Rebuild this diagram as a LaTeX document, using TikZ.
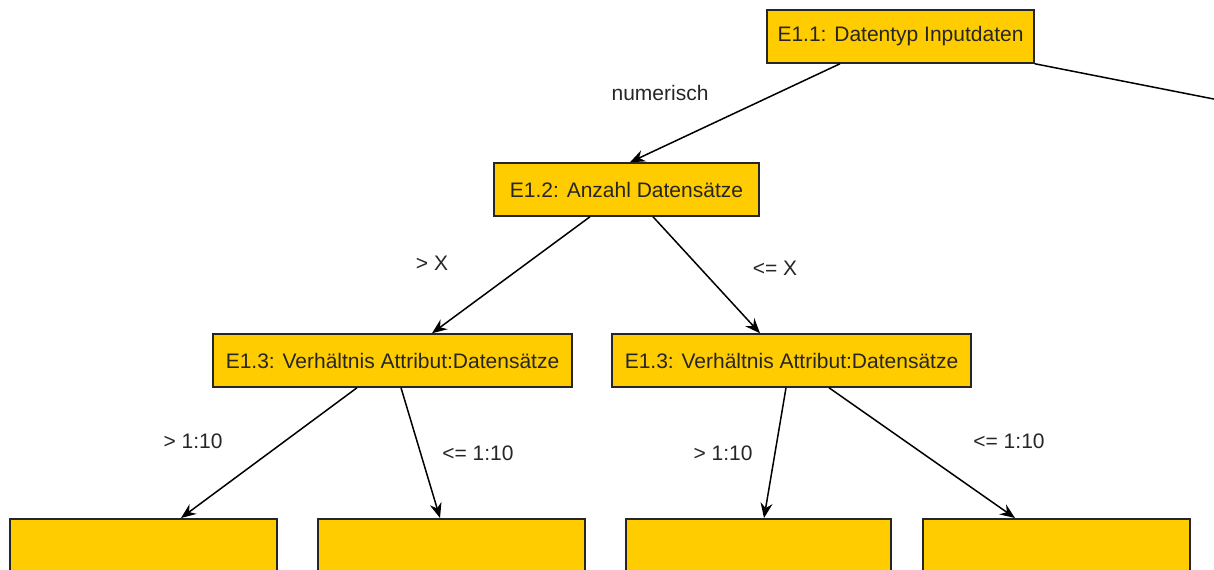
\documentclass[tikz,border=0pt]{standalone}
\usepackage{fontspec}
\setmainfont{Liberation Sans}
\usetikzlibrary{arrows.meta,calc}
\definecolor{boxfill}{HTML}{FFCC00}
\definecolor{ink}{HTML}{262626}
\tikzset{
  decision/.style={draw=ink, line width=0.75pt, fill=boxfill, text=ink,
    minimum height=26.5pt, inner sep=0pt, font=\fontsize{10.5}{12}\selectfont},
  leaf/.style={draw=ink, line width=0.75pt, fill=boxfill,
    minimum height=40pt, inner sep=0pt},
  branch/.style={draw=black, line width=0.75pt,
    -{Stealth[length=7.5pt,width=6pt,inset=2.5pt]}},
  plain/.style={draw=black, line width=0.75pt},
  cond/.style={text=ink, font=\fontsize{10.5}{12}\selectfont, inner sep=0pt}
}
\begin{document}
\begin{tikzpicture}[x=0.5pt,y=-0.5pt]
  \useasboundingbox (0,0) rectangle (1214,569);
  \clip (0,0) rectangle (1214,569);

  % decision nodes
  \node[decision, minimum width=133.5pt] (e11) at (900.5,36.5) {E1.1: Datentyp Inputdaten};
  \node[decision, minimum width=132.5pt] (e12) at (626.5,189.5) {E1.2: Anzahl Datensätze};
  \node[decision, minimum width=179.5pt] (e13a) at (392.5,360.5) {E1.3: Verhältnis Attribut:Datensätze};
  \node[decision, minimum width=179.5pt] (e13b) at (791.5,360.5) {E1.3: Verhältnis Attribut:Datensätze};

  % leaf boxes (bottom row)
  \node[leaf, minimum width=133.5pt, anchor=north] (l1) at (143.5,518) {};
  \node[leaf, minimum width=133.5pt, anchor=north] (l2) at (451.5,518) {};
  \node[leaf, minimum width=132.5pt, anchor=north] (l3) at (758.5,518) {};
  \node[leaf, minimum width=133.5pt, anchor=north] (l4) at (1056.5,518) {};

  % continuation to the right
  \coordinate (rightout) at (1234,103);

  % connectors
  \draw[branch] ($(e11.south)+(-60.5,0)$) -- ($(e12.north)+(3.5,0)$);
  \draw[plain] (e11.south east) -- (rightout);
  \draw[branch] ($(e12.south)+(-36.5,0)$) -- ($(e13a.north)+(39.5,0)$);
  \draw[branch] ($(e12.south)+(26.5,0)$) -- ($(e13b.north)+(-31.5,0)$);
  \draw[branch] ($(e13a.south)+(-35.5,0)$) -- ($(l1.north)+(37.5,0)$);
  \draw[branch] ($(e13a.south)+(8.5,0)$) -- ($(l2.north)+(-11.5,0)$);
  \draw[branch] ($(e13b.south)+(-5.5,0)$) -- ($(l3.north)+(5.5,0)$);
  \draw[branch] ($(e13b.south)+(37.5,0)$) -- ($(l4.north)+(-41.5,0)$);

  % branch conditions
  \node[cond] (c1) at (660,93) {numerisch};
  \node[cond] (c2) at (432,263) {> X};
  \node[cond] (c3) at (775,268) {<= X};
  \node[cond] (c4) at (193,441) {> 1:10};
  \node[cond] (c5) at (478,453) {<= 1:10};
  \node[cond] (c6) at (723,453) {> 1:10};
  \node[cond] (c7) at (1009,441) {<= 1:10};
\end{tikzpicture}
\end{document}
